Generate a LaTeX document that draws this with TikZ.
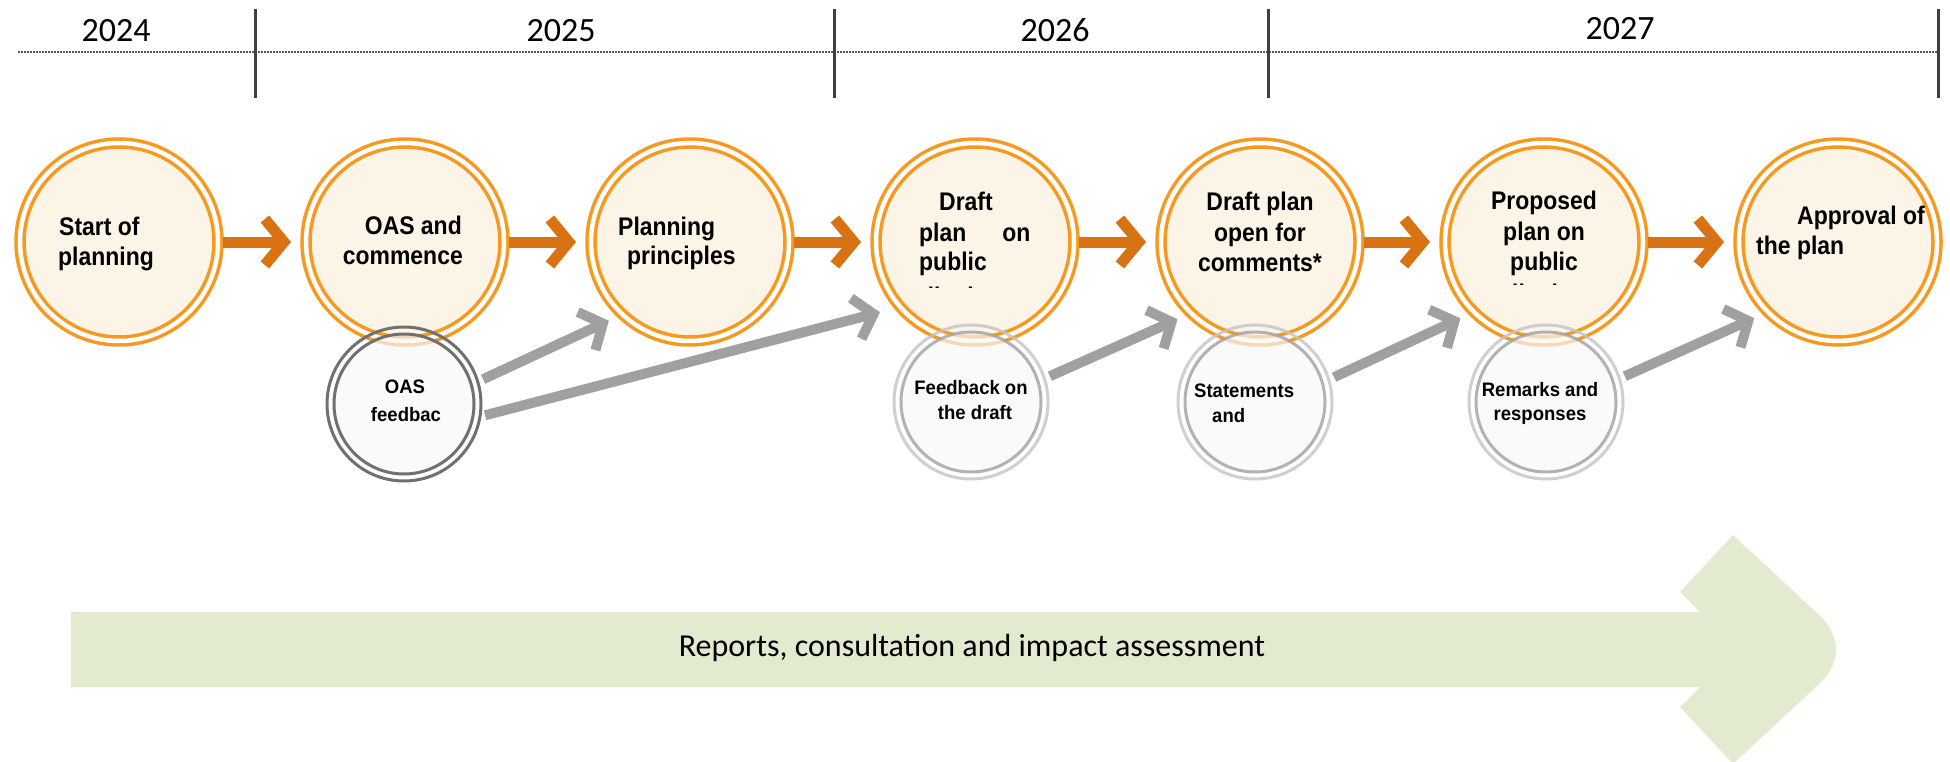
\documentclass[tikz,border=0pt]{standalone}
\usepackage{fontspec}
\setmainfont{Carlito}
\newfontfamily\circfont[FakeStretch=0.9]{Liberation Sans}
\newfontfamily\smallfont[FakeStretch=0.95]{Liberation Sans}
\usetikzlibrary{arrows.meta}
\definecolor{ringor}{RGB}{246,153,30}
\definecolor{cream}{RGB}{253,244,232}
\definecolor{arrowor}{RGB}{217,114,18}
\definecolor{arrowgr}{RGB}{160,160,160}
\definecolor{ringdk}{RGB}{112,112,112}
\definecolor{ringlt}{RGB}{160,160,160}
\definecolor{ringxl}{RGB}{195,195,195}
\definecolor{fbfill}{RGB}{247,247,247}
\definecolor{bandgreen}{RGB}{226,235,207}
\definecolor{axisgray}{RGB}{64,64,64}
\begin{document}
\begin{tikzpicture}[x=1pt,y=-1pt,
  stage/.style={circle, fill=cream, draw=ringor, line width=3.5pt, double=white,
    double distance=4.5pt, minimum size=198pt, inner sep=0pt, outer sep=0pt},
  fbk/.style={circle, fill=fbfill, fill opacity=0.68, line width=3pt,
    minimum size=140pt, inner sep=0pt, outer sep=0pt},
  fbkdark/.style={fbk, draw=ringdk},
  fbklight/.style={fbk, draw=ringlt, draw opacity=0.8},
  ringdark/.style={draw=ringdk, line width=3pt},
  ringlight/.style={draw=ringxl, line width=3pt, draw opacity=0.8},
  orarrow/.style={draw=arrowor, line width=11pt,
    -{Straight Barb[length=19pt,width=46pt,sharp]}, shorten <=5pt, shorten >=15pt},
  grarrow/.style={draw=arrowgr, line width=10pt,
    -{Straight Barb[length=18pt,width=42pt,sharp]}, shorten <=13pt, shorten >=15pt},
  ctext/.style={font=\circfont\bfseries\fontsize{25.5}{30}\selectfont, inner sep=0pt},
  gtext/.style={font=\smallfont\bfseries\fontsize{19.5}{24}\selectfont, inner sep=0pt},
  year/.style={font=\fontsize{34}{40}\selectfont, inner sep=0pt, anchor=base},
  tick/.style={draw=axisgray, line width=3pt},
  axisline/.style={draw=axisgray!90, line width=2pt, dash pattern=on 1.5pt off 1.5pt}]
\useasboundingbox (0,0) rectangle (1950,762);

% timeline
\draw[axisline] (18,52) -- (1938,52);
\draw[tick] (255,9) -- (255,98);
\draw[tick] (834,9) -- (834,98);
\draw[tick] (1268,9) -- (1268,98);
\draw[tick] (1938,9) -- (1938,98);
\node[year] (y24) at (116,42) {2024};
\node[year] (y25) at (561,42) {2025};
\node[year] (y26) at (1055,42) {2026};
\node[year] (y27) at (1620,40) {2027};

% green band arrow
\fill[bandgreen] (71,612) -- (1700,612) -- (1680,592) -- (1733,535) -- (1818,614)
  .. controls (1842,636) and (1842,663) .. (1818,685) -- (1733,764) -- (1680,707)
  -- (1700,687) -- (71,687) -- cycle;
\node[font=\fontsize{32}{38}\selectfont, inner sep=0pt, anchor=base] (band) at (972,656)
  {Reports, consultation and impact assessment};

% stage circles
\node[stage] (c1) at (119,242) {};
\node[stage] (c2) at (405,242) {};
\node[stage] (c3) at (690,242) {};
\node[stage] (c4) at (975,242) {};
\node[stage] (c5) at (1260,242) {};
\node[stage] (c6) at (1544,242) {};
\node[stage] (c7) at (1838,242) {};

% feedback circles
\node[fbkdark] (g1) at (404,404) {};
\draw[ringdark] (g1.center) circle[radius=77pt];
\node[fbklight] (g2) at (971,402) {};
\draw[ringlight] (g2.center) circle[radius=77pt];
\node[fbklight] (g3) at (1255,402) {};
\draw[ringlight] (g3.center) circle[radius=77pt];
\node[fbklight] (g4) at (1546,402) {};
\draw[ringlight] (g4.center) circle[radius=77pt];

% orange arrows
\draw[orarrow] (c1) -- (c2);
\draw[orarrow] (c2) -- (c3);
\draw[orarrow] (c3) -- (c4);
\draw[orarrow] (c4) -- (c5);
\draw[orarrow] (c5) -- (c6);
\draw[orarrow] (c6) -- (c7);

% gray arrows
\draw[grarrow] (g1.16) -- (c3.227);
\draw[grarrow, shorten >=21pt] (g1.348) -- (c4.221);
\draw[grarrow] (g2.17) -- (c5.226);
\draw[grarrow] (g3.16) -- (c6.225);
\draw[grarrow] (g4.17) -- (c7.225);

% stage texts
\node[ctext, anchor=base west] (t1a) at (59,235) {Start of};
\node[ctext, anchor=base west] (t1b) at (58,265) {planning};
\node[ctext, anchor=base east] (t2a) at (462,234) {OAS and};
\node[ctext, anchor=base east] (t2b) at (463,264) {commence};
\node[ctext, anchor=base west] (t3a) at (618,235) {Planning};
\node[ctext, anchor=base west] (t3b) at (627,264) {principles};
\node[ctext, anchor=base west] (t4a) at (939,211) {Draft};
\node[ctext, anchor=base west] (t4b) at (919,241) {plan\hspace{36pt}on};
\node[ctext, anchor=base west] (t4c) at (919,270) {public};
\begin{scope}
  \clip (900,180) rectangle (1060,287);
  \node[ctext, anchor=base west] (t4d) at (920,305) {display};
\end{scope}
\node[ctext, anchor=base] (t5a) at (1260,211) {Draft plan};
\node[ctext, anchor=base] (t5b) at (1260,241) {open for};
\node[ctext, anchor=base] (t5c) at (1260,271) {comments*};
\node[ctext, anchor=base] (t6a) at (1544,209) {Proposed};
\node[ctext, anchor=base] (t6b) at (1544,240) {plan on};
\node[ctext, anchor=base] (t6c) at (1544,270) {public};
\begin{scope}
  \clip (1480,180) rectangle (1610,284);
  \node[ctext, anchor=base] (t6d) at (1544,302) {display};
\end{scope}
\node[ctext, anchor=base west] (t7a) at (1797,224) {Approval of};
\node[ctext, anchor=base west] (t7b) at (1756,254) {the plan};

% feedback texts
\node[gtext, anchor=base] (u1a) at (405,393) {OAS};
\node[gtext, anchor=base] (u1b) at (406,421) {feedbac};
\node[gtext, anchor=base] (u2a) at (971,394) {Feedback on};
\node[gtext, anchor=base] (u2b) at (975,419) {the draft};
\node[gtext, anchor=base west] (u3a) at (1194,397) {Statements};
\node[gtext, anchor=base west] (u3b) at (1212,422) {and};
\node[gtext, anchor=base] (u4a) at (1540,396) {Remarks and};
\node[gtext, anchor=base] (u4b) at (1540,420) {responses};
\end{tikzpicture}
\end{document}
